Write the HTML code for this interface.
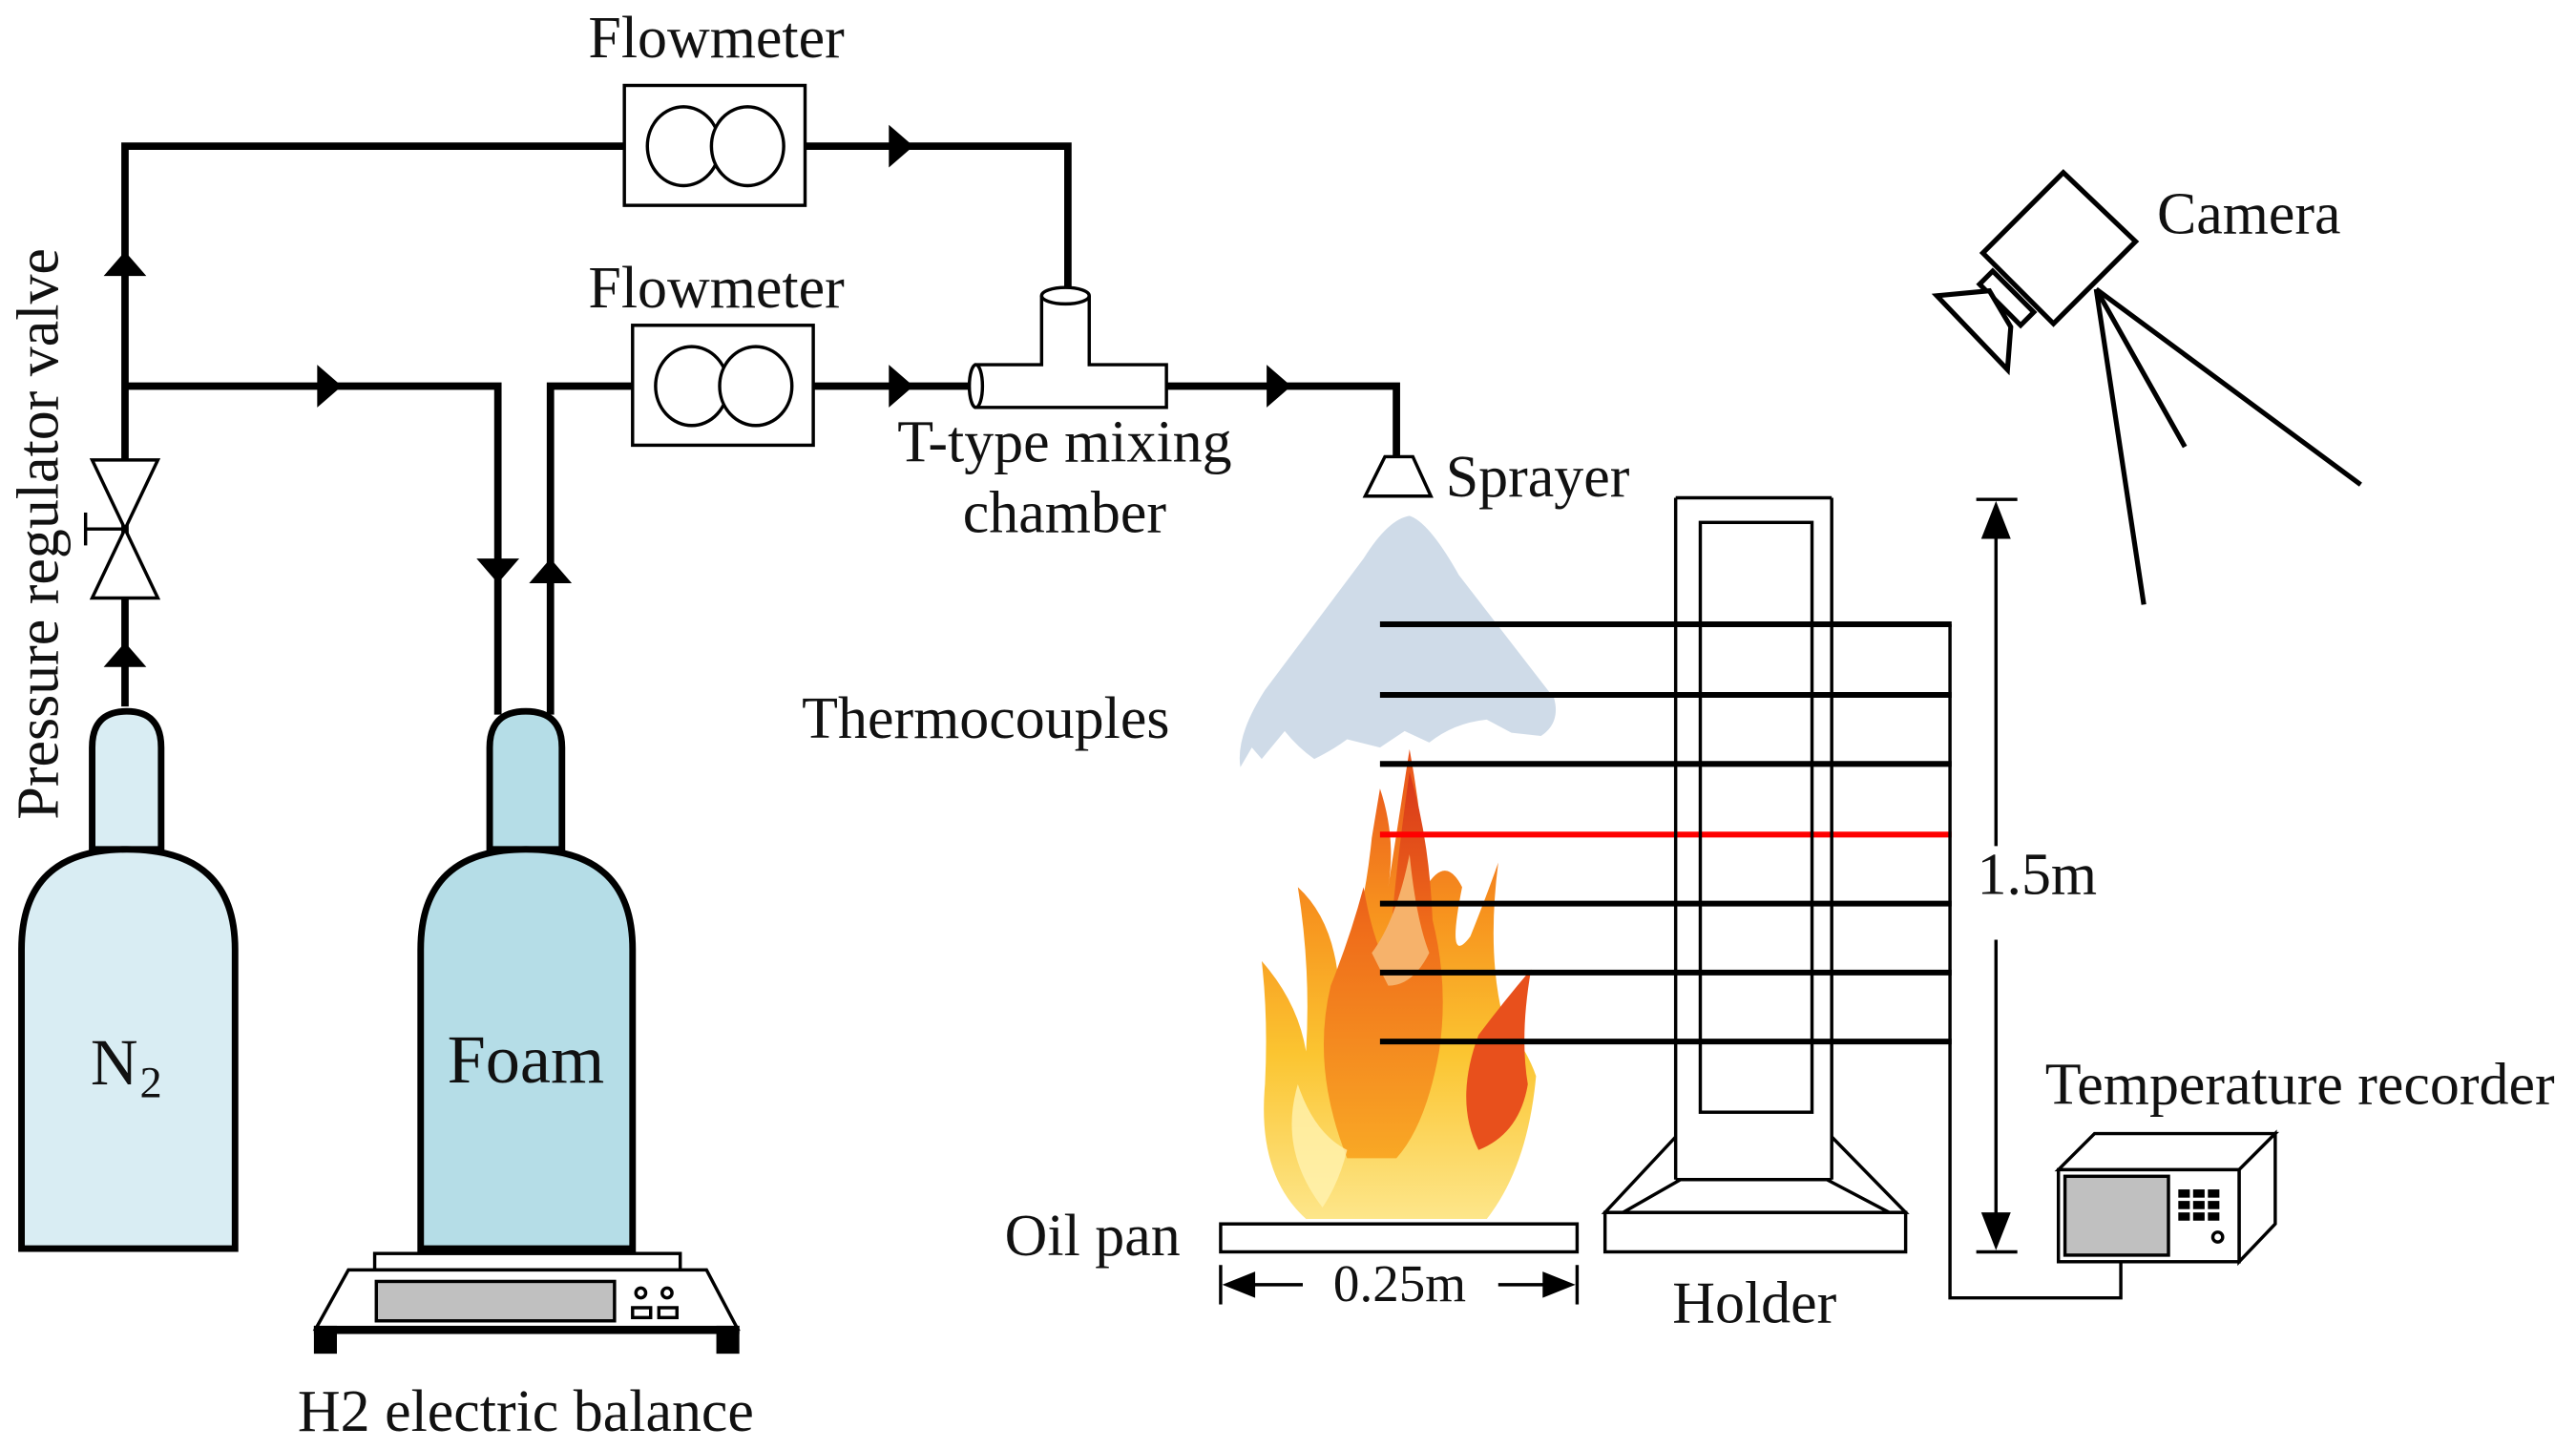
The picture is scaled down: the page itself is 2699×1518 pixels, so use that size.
<!DOCTYPE html>
<html><head><meta charset="utf-8"><style>
html,body{margin:0;padding:0;background:#fff;}
svg{display:block;}
text{font-family:"Liberation Serif",serif;fill:#111;}
</style></head><body>
<svg width="2699" height="1518" viewBox="0 0 1568 882" xmlns="http://www.w3.org/2000/svg">
<defs>
<linearGradient id="fg" x1="0" y1="1" x2="0" y2="0">
<stop offset="0" stop-color="#fde68a"/><stop offset="0.35" stop-color="#fbc531"/><stop offset="0.65" stop-color="#f7931e"/><stop offset="1" stop-color="#e8501c"/>
</linearGradient>
<linearGradient id="fg2" x1="0" y1="1" x2="0" y2="0">
<stop offset="0" stop-color="#f9a825"/><stop offset="0.6" stop-color="#ef6c1a"/><stop offset="1" stop-color="#d8361a"/>
</linearGradient>
</defs>

<g stroke="#000" stroke-width="4.5" fill="none">
<polyline points="76,430 76,89 380,89"/>
<polyline points="490,89 650,89 650,175"/>
<polyline points="76,235 303,235 303,435"/>
<polyline points="335,435 335,235 385,235"/>
<line x1="495" y1="235" x2="590" y2="235"/>
<polyline points="710,235 850,235 850,278"/>
</g>
<g fill="#000">
<polygon points="541,76 541,102 556,89"/>
<polygon points="541,222 541,248 556,235"/>
<polygon points="771,222 771,248 786,235"/>
<polygon points="193,222 193,248 208,235"/>
<polygon points="63,168 89,168 76,153"/>
<polygon points="63,406 89,406 76,391"/>
<polygon points="290,340 316,340 303,355"/>
<polygon points="322,355 348,355 335,340"/>
</g>
<g stroke="#000" stroke-width="2" fill="#fff">
<polygon points="56,280 96,280 76,322"/>
<polygon points="56,364 96,364 76,322"/>
<line x1="52" y1="322" x2="76" y2="322"/>
<line x1="52" y1="312" x2="52" y2="332"/>
</g>
<g stroke="#000" stroke-width="2" fill="#fff">
<rect x="380" y="52" width="110" height="73"/>
<ellipse cx="416" cy="89" rx="22" ry="24"/><ellipse cx="455" cy="89" rx="22" ry="24"/>
<rect x="385" y="198" width="110" height="73"/>
<ellipse cx="421" cy="235" rx="22" ry="24"/><ellipse cx="460" cy="235" rx="22" ry="24"/>
</g>
<g stroke="#000" stroke-width="2" fill="#fff">
<path d="M634,180 L634,222 L594,222 L594,248 L710,248 L710,222 L663,222 L663,180"/>
<ellipse cx="594" cy="235" rx="4" ry="13"/>
<ellipse cx="648.5" cy="180" rx="14.5" ry="5"/>
</g>
<polygon points="843,278 860,278 871,302 831,302" fill="#fff" stroke="#000" stroke-width="2"/>

<g stroke="#000" stroke-width="4">
<path d="M56,517 L56,455 Q56,433 77,433 Q98,433 98,455 L98,517 Z" fill="#d9edf3"/>
<path d="M13,760 L13,578 Q13,517 77,517 Q143,517 143,578 L143,760 Z" fill="#d9edf3"/>
<path d="M298,517 L298,455 Q298,433 320,433 Q342,433 342,455 L342,517 Z" fill="#b5dde7"/>
<path d="M256,760 L256,578 Q256,517 320,517 Q385,517 385,578 L385,760 Z" fill="#b5dde7"/>
</g>
<text x="55" y="660" font-size="40">N</text><text x="85" y="668" font-size="27">2</text>
<text x="320" y="659" font-size="42" text-anchor="middle">Foam</text>

<g stroke="#000" stroke-width="2">
<rect x="228" y="763" width="186" height="10" fill="#fff"/>
<polygon points="212,773 430,773 449,809 192,809" fill="#fff"/>
<rect x="229" y="780" width="145" height="24" fill="#c0c0c0"/>
<circle cx="390" cy="787" r="3" fill="#fff"/><circle cx="406" cy="787" r="3" fill="#fff"/>
<rect x="385" y="796" width="11" height="6" fill="#fff"/><rect x="401" y="796" width="11" height="6" fill="#fff"/>
</g>
<rect x="191" y="807" width="259" height="5" fill="#000"/>
<rect x="191" y="807" width="14" height="17" fill="#000"/>
<rect x="436" y="807" width="14" height="17" fill="#000"/>

<path d="M858,314 Q845,316 830,340 L770,420 Q752,448 755,467 L762,455 L768,462 L782,445 Q790,455 800,462 Q812,456 820,450 L840,455 L855,445 L870,452 Q885,440 905,438 L920,446 L938,448 Q950,440 946,425 L888,350 Q870,318 858,314 Z" fill="#cfdbe8"/>

<path d="M795,742 Q765,715 770,660 Q772,620 768,585 Q790,610 795,640 Q798,590 790,540 Q812,560 815,600 Q830,560 835,510 L840,480 Q850,510 845,540 L858,456 Q866,500 868,540 Q880,520 890,540 Q880,590 895,570 Q905,545 912,525 Q905,580 915,620 Q930,640 935,655 Q930,710 905,742 Z" fill="url(#fg)"/>
<path d="M820,705 Q798,650 810,600 Q822,570 830,540 Q835,570 845,590 Q848,540 858,470 Q870,510 872,560 Q882,600 876,640 Q868,685 850,705 Z" fill="url(#fg2)"/>
<path d="M900,700 Q885,670 900,630 Q915,610 932,590 Q925,630 930,660 Q925,690 900,700 Z" fill="#e8501c"/>
<path d="M805,735 Q778,700 790,660 Q800,690 820,700 Q815,720 805,735 Z" fill="#fff3b0" opacity="0.8"/>
<path d="M835,580 Q850,560 858,520 Q862,560 870,580 Q860,600 845,600 Z" fill="#f6b26b"/>

<g stroke="#000" stroke-width="3.5">
<line x1="840" y1="380" x2="1188" y2="380"/>
<line x1="840" y1="423" x2="1188" y2="423"/>
<line x1="840" y1="465" x2="1188" y2="465"/>
<line x1="840" y1="550" x2="1188" y2="550"/>
<line x1="840" y1="592" x2="1188" y2="592"/>
<line x1="840" y1="634" x2="1188" y2="634"/>
</g>
<line x1="840" y1="508" x2="1188" y2="508" stroke="#f00" stroke-width="3.5"/>
<polyline points="1187,380 1187,790 1291,790 1291,768" fill="none" stroke="#000" stroke-width="2"/>

<g stroke="#000" stroke-width="2" fill="none">
<line x1="1020" y1="303" x2="1115" y2="303"/>
<line x1="1020" y1="303" x2="1020" y2="718"/><line x1="1115" y1="303" x2="1115" y2="718"/>
<rect x="1035" y="318" width="68" height="359"/>
<line x1="1020" y1="718" x2="1115" y2="718"/>
<polyline points="1020,692 977,738 1160,738 1115,692"/>
<polyline points="1023,718 988,738"/><polyline points="1112,718 1150,738"/>
<rect x="977" y="738" width="183" height="24"/>
</g>

<rect x="743" y="745" width="217" height="17" fill="#fff" stroke="#000" stroke-width="2"/>
<g stroke="#000" stroke-width="2">
<line x1="743" y1="770" x2="743" y2="794"/><line x1="960" y1="770" x2="960" y2="794"/>
<line x1="755" y1="782" x2="793" y2="782"/><line x1="912" y1="782" x2="948" y2="782"/>
</g>
<polygon points="744,782 764,774 764,790" fill="#000"/>
<polygon points="959,782 939,774 939,790" fill="#000"/>

<g stroke="#000" stroke-width="2">
<line x1="1203" y1="304" x2="1228" y2="304"/><line x1="1203" y1="762" x2="1228" y2="762"/>
<line x1="1215" y1="310" x2="1215" y2="515"/><line x1="1215" y1="572" x2="1215" y2="755"/>
</g>
<polygon points="1215,305 1206,328 1224,328" fill="#000"/>
<polygon points="1215,761 1206,738 1224,738" fill="#000"/>

<g stroke="#000" stroke-width="2" fill="#fff">
<polygon points="1253,712 1275,690 1385,690 1363,712"/>
<polygon points="1363,712 1385,690 1385,745 1363,768"/>
<rect x="1253" y="712" width="110" height="56"/>
<rect x="1257" y="716" width="63" height="48" fill="#c0c0c0"/>
<circle cx="1350" cy="753" r="3"/>
</g>
<g fill="#000">
<rect x="1326" y="724" width="7" height="5"/><rect x="1335" y="724" width="7" height="5"/><rect x="1344" y="724" width="7" height="5"/>
<rect x="1326" y="731" width="7" height="5"/><rect x="1335" y="731" width="7" height="5"/><rect x="1344" y="731" width="7" height="5"/>
<rect x="1326" y="738" width="7" height="5"/><rect x="1335" y="738" width="7" height="5"/><rect x="1344" y="738" width="7" height="5"/>
</g>

<g stroke="#000" stroke-width="3" fill="#fff">
<polygon points="1256,105 1300,147 1250,197 1207,154"/>
<polygon points="1213,165 1238,190 1230,198 1205,173"/>
<polygon points="1179,180 1211,177 1224,199 1222,225"/>
<line x1="1276" y1="176" x2="1305" y2="368"/>
<line x1="1276" y1="176" x2="1330" y2="272"/>
<line x1="1276" y1="176" x2="1437" y2="295"/>
</g>

<g font-size="36">
<text x="436" y="35" text-anchor="middle">Flowmeter</text>
<text x="436" y="187" text-anchor="middle">Flowmeter</text>
<text x="648" y="281" text-anchor="middle">T-type mixing</text>
<text x="648" y="324" text-anchor="middle">chamber</text>
<text x="880" y="302">Sprayer</text>
<text x="1313" y="142">Camera</text>
<text x="600" y="449" text-anchor="middle">Thermocouples</text>
<text x="1400" y="672" text-anchor="middle">Temperature recorder</text>
<text x="1240" y="544" text-anchor="middle">1.5m</text>
<text x="665" y="764" text-anchor="middle">Oil pan</text>
<text x="852" y="792" text-anchor="middle" font-size="32">0.25m</text>
<text x="1068" y="805" text-anchor="middle">Holder</text>
<text x="320" y="871" text-anchor="middle">H2 electric balance</text>
<text transform="translate(35,325) rotate(-90)" text-anchor="middle">Pressure regulator valve</text>
</g>
</svg>
</body></html>
